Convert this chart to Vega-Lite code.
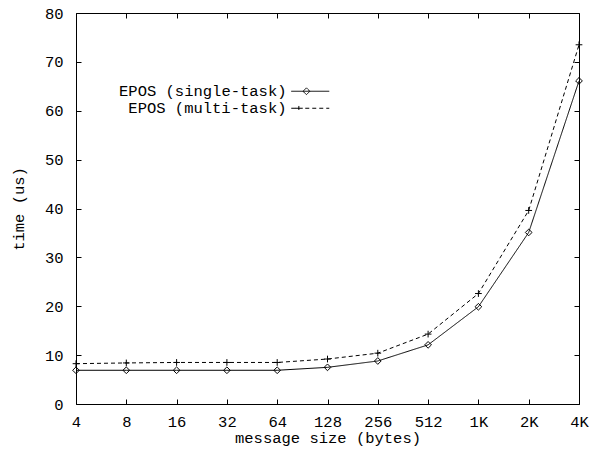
{
  "$schema": "https://vega.github.io/schema/vega-lite/v6.json",
  "width": 503,
  "height": 391,
  "autosize": "none",
  "padding": {"left": 76, "top": 13, "right": 21, "bottom": 46},
  "background": "white",
  "config": {
    "view": {"stroke": "black", "strokeWidth": 1},
    "font": "Liberation Mono",
    "axis": {
      "labelFont": "Liberation Mono",
      "titleFont": "Liberation Mono",
      "labelFontSize": 15.5,
      "titleFontSize": 15.5,
      "titleFontWeight": "normal",
      "labelColor": "black",
      "titleColor": "black",
      "tickColor": "black",
      "domain": false,
      "grid": false
    },
    "legend": {
      "labelFont": "Liberation Mono",
      "labelFontSize": 15.5,
      "labelColor": "black",
      "labelLimit": 400
    }
  },
  "data": {
    "values": [
      {"size": "4", "series": "EPOS (single-task)", "time": 6.9},
      {"size": "8", "series": "EPOS (single-task)", "time": 6.9},
      {"size": "16", "series": "EPOS (single-task)", "time": 6.9},
      {"size": "32", "series": "EPOS (single-task)", "time": 6.9},
      {"size": "64", "series": "EPOS (single-task)", "time": 6.9},
      {"size": "128", "series": "EPOS (single-task)", "time": 7.5},
      {"size": "256", "series": "EPOS (single-task)", "time": 8.8},
      {"size": "512", "series": "EPOS (single-task)", "time": 12.1},
      {"size": "1K", "series": "EPOS (single-task)", "time": 19.9},
      {"size": "2K", "series": "EPOS (single-task)", "time": 35.1},
      {"size": "4K", "series": "EPOS (single-task)", "time": 66.1},
      {"size": "4", "series": "EPOS (multi-task)", "time": 8.25},
      {"size": "8", "series": "EPOS (multi-task)", "time": 8.4},
      {"size": "16", "series": "EPOS (multi-task)", "time": 8.5},
      {"size": "32", "series": "EPOS (multi-task)", "time": 8.5},
      {"size": "64", "series": "EPOS (multi-task)", "time": 8.5},
      {"size": "128", "series": "EPOS (multi-task)", "time": 9.2},
      {"size": "256", "series": "EPOS (multi-task)", "time": 10.4},
      {"size": "512", "series": "EPOS (multi-task)", "time": 14.3},
      {"size": "1K", "series": "EPOS (multi-task)", "time": 22.6},
      {"size": "2K", "series": "EPOS (multi-task)", "time": 39.6},
      {"size": "4K", "series": "EPOS (multi-task)", "time": 73.5}
    ]
  },
  "layer": [
    {
      "mark": {"type": "line", "color": "black", "strokeWidth": 1},
      "encoding": {
        "x": {
          "field": "size", "type": "ordinal",
          "sort": ["4", "8", "16", "32", "64", "128", "256", "512", "1K", "2K", "4K"],
          "scale": {"type": "point", "padding": 0},
          "axis": {"orient": "bottom", "title": "message size (bytes)", "labelAngle": 0, "tickSize": -5, "labelPadding": 15, "titlePadding": 1}
        },
        "y": {
          "field": "time", "type": "quantitative",
          "scale": {"domain": [0, 80], "nice": false},
          "axis": {"orient": "left", "title": "time (us)", "values": [0, 10, 20, 30, 40, 50, 60, 70, 80], "tickSize": -5, "labelPadding": 18, "titlePadding": 18}
        },
        "strokeDash": {
          "field": "series", "type": "nominal",
          "scale": {"domain": ["EPOS (single-task)", "EPOS (multi-task)"], "range": [[1, 0], [4, 3]]},
          "legend": {
            "orient": "none",
            "legendX": 226.5,
            "legendY": 70.5,
            "title": null,
            "symbolSize": 100,
            "symbolStrokeWidth": 1,
            "symbolStrokeColor": "black",
            "symbolFillColor": "transparent",
            "labelAlign": "right",
            "labelOffset": -31.5,
            "rowPadding": -2,
            "encode": {
              "symbols": {
                "update": {
                  "shape": {"signal": "datum.index === 0 ? 'M-3.8,0H3.8M-1.44,0L-0.76,-0.68L-0.08,0L-0.76,0.68Z' : 'M-3.8,0H3.8M-3.04,0H-1.52M-2.28,-0.46V0.46'"}
                }
              }
            }
          }
        }
      }
    },
    {
      "transform": [{"filter": "datum.series === 'EPOS (single-task)'"}],
      "mark": {"type": "point", "shape": "diamond", "filled": false, "color": "black", "strokeWidth": 1, "size": 45, "opacity": 1},
      "encoding": {
        "x": {
          "field": "size", "type": "ordinal",
          "sort": ["4", "8", "16", "32", "64", "128", "256", "512", "1K", "2K", "4K"],
          "scale": {"type": "point", "padding": 0},
          "axis": {"orient": "top", "title": null, "labels": false, "tickSize": -5}
        },
        "y": {
          "field": "time", "type": "quantitative",
          "scale": {"domain": [0, 80], "nice": false},
          "axis": {"orient": "right", "title": null, "labels": false, "values": [0, 10, 20, 30, 40, 50, 60, 70, 80], "tickSize": -5}
        }
      }
    },
    {
      "transform": [{"filter": "datum.series === 'EPOS (multi-task)'"}],
      "mark": {"type": "point", "shape": "M-1,0H1M0,-1V1", "filled": false, "color": "black", "strokeWidth": 1, "size": 45, "opacity": 1},
      "encoding": {
        "x": {
          "field": "size", "type": "ordinal",
          "sort": ["4", "8", "16", "32", "64", "128", "256", "512", "1K", "2K", "4K"],
          "scale": {"type": "point", "padding": 0},
          "axis": null
        },
        "y": {
          "field": "time", "type": "quantitative",
          "scale": {"domain": [0, 80], "nice": false},
          "axis": null
        }
      }
    }
  ],
  "resolve": {"axis": {"x": "independent", "y": "independent"}}
}
